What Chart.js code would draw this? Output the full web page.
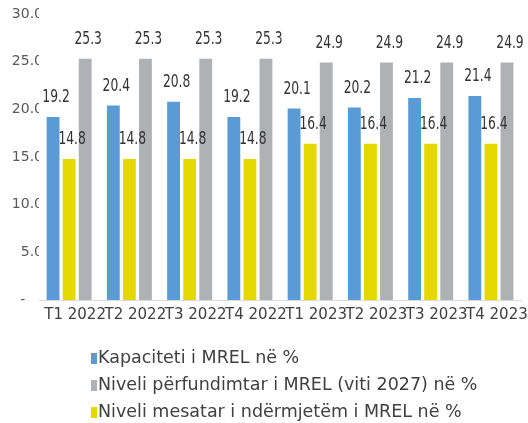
<!DOCTYPE html>
<html>
<head>
<meta charset="utf-8">
<script src="https://cdn.jsdelivr.net/npm/chart.js@4.4.1/dist/chart.umd.min.js"></script>
<style>
  html, body { margin: 0; padding: 0; background: #ffffff; }
  #wrap { width: 528px; height: 423px; }
</style>
</head>
<body>
<div id="wrap"><canvas id="c" width="528" height="423"></canvas></div>
<script>
// Quarterly MREL figures (%)
const categories = ['T1 2022', 'T2 2022', 'T3 2022', 'T4 2022', 'T1 2023', 'T2 2023', 'T3 2023', 'T4 2023'];
const kapaciteti = [19.2, 20.4, 20.8, 19.2, 20.1, 20.2, 21.2, 21.4];
const niveliMesatar = [14.8, 14.8, 14.8, 14.8, 16.4, 16.4, 16.4, 16.4];
const niveliPerfundimtar = [25.3, 25.3, 25.3, 25.3, 24.9, 24.9, 24.9, 24.9];
const yTicks = [0, 5, 10, 15, 20, 25, 30];

const seriesNames = {
  kapaciteti: 'Kapaciteti i MREL në %',
  perfundimtar: 'Niveli përfundimtar i MREL (viti 2027) në %',
  mesatar: 'Niveli mesatar i ndërmjetëm i MREL në %'
};

const COLORS = { blue: '#5B9BD5', yellow: '#E5D800', gray: '#B0B1B5' };
const AXIS_FONT = "'DejaVu Sans', sans-serif";

// Value labels above each bar, in a tall condensed face
const valueLabels = {
  id: 'valueLabels',
  afterDatasetsDraw(chart) {
    const ctx = chart.ctx;
    ctx.save();
    ctx.fillStyle = '#333333';
    ctx.font = "18px 'Liberation Sans Narrow', 'DejaVu Sans Condensed', sans-serif";
    ctx.textAlign = 'center';
    ctx.textBaseline = 'middle';
    chart.data.datasets.forEach((ds, di) => {
      const meta = chart.getDatasetMeta(di);
      meta.data.forEach((bar, i) => {
        const txt = ds.data[i].toFixed(1);
        ctx.save();
        ctx.translate(bar.x + 3, bar.y - 19.5);
        ctx.scale(0.76, 1);
        ctx.fillText(txt, 0, 0);
        ctx.restore();
      });
    });
    ctx.restore();
  }
};

// Legend listed one series per row, in the order given below
const legendOrder = [0, 2, 1];
const stackedLegend = {
  id: 'stackedLegend',
  afterDraw(chart) {
    const ctx = chart.ctx;
    ctx.save();
    ctx.font = "17.5px " + AXIS_FONT;
    ctx.textAlign = 'left';
    ctx.textBaseline = 'middle';
    const x0 = 91, rowY = [358.5, 385.5, 412], markW = 6, markH = 11;
    legendOrder.forEach((di, row) => {
      const ds = chart.data.datasets[di];
      const y = rowY[row];
      ctx.fillStyle = ds.backgroundColor;
      ctx.fillRect(x0, Math.round(y - markH / 2), markW, markH);
      ctx.fillStyle = '#404040';
      ctx.fillText(ds.label, x0 + 7, y);
    });
    ctx.restore();
  }
};

new Chart(document.getElementById('c'), {
  type: 'bar',
  data: {
    labels: categories,
    datasets: [
      { label: seriesNames.kapaciteti, data: kapaciteti, backgroundColor: COLORS.blue },
      { label: seriesNames.mesatar, data: niveliMesatar, backgroundColor: COLORS.yellow },
      { label: seriesNames.perfundimtar, data: niveliPerfundimtar, backgroundColor: COLORS.gray }
    ]
  },
  options: {
    responsive: false,
    animation: false,
    devicePixelRatio: 1,
    layout: { padding: { top: 14, right: 4, left: 0, bottom: 0 } },
    datasets: { bar: { categoryPercentage: 0.8, barPercentage: 0.8 } },
    plugins: {
      legend: { display: false },
      tooltip: { enabled: false }
    },
    scales: {
      x: {
        grid: { display: false, drawTicks: false },
        border: { display: true, color: '#D9D9D9', width: 1 },
        ticks: {
          color: '#404040',
          font: { family: AXIS_FONT, size: 15 },
          maxRotation: 0,
          minRotation: 0,
          autoSkip: false,
          labelOffset: 6,
          padding: 6
        },
        afterFit(scale) { scale.height = 123; }
      },
      y: {
        min: 0,
        max: 30,
        grid: { display: false, drawTicks: false },
        border: { display: false },
        afterBuildTicks(scale) { scale.ticks = yTicks.map(v => ({ value: v })); },
        ticks: {
          color: '#595959',
          font: { family: AXIS_FONT, size: 14 },
          padding: -4,
          callback: (v) => v === 0 ? '-    ' : Number(v).toFixed(1)
        },
        afterFit(scale) { scale.width = 39; }
      }
    }
  },
  plugins: [valueLabels, stackedLegend]
});
</script>
</body>
</html>
